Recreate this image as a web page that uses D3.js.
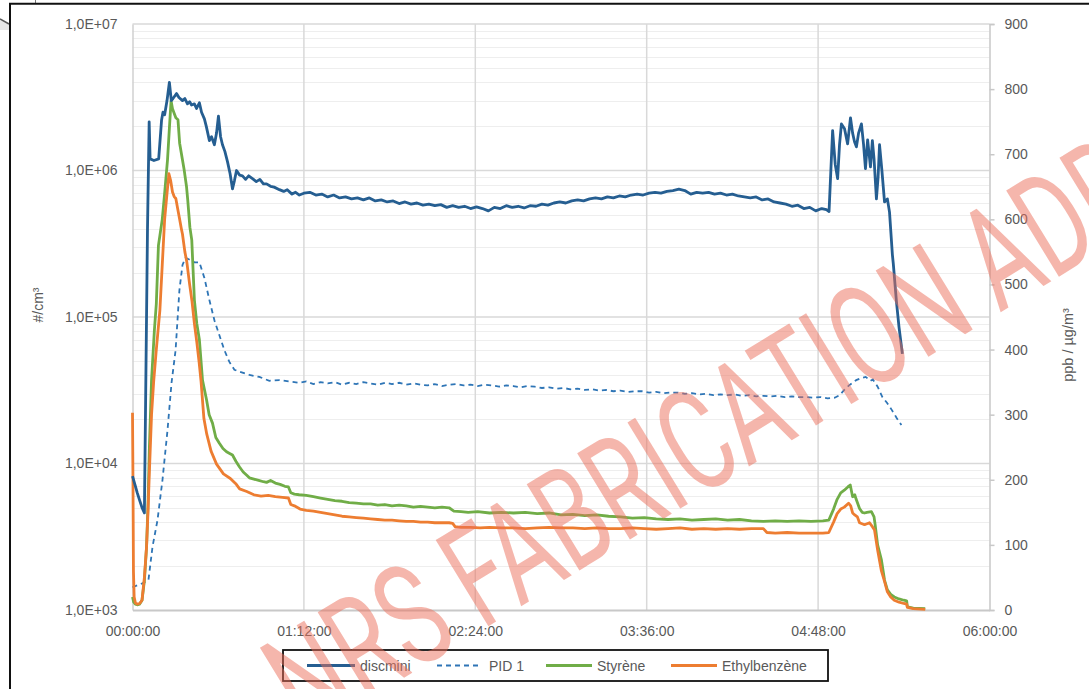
<!DOCTYPE html>
<html><head><meta charset="utf-8">
<script src="https://cdn.jsdelivr.net/npm/d3@7"></script>
<style>
html,body{margin:0;padding:0;background:#fff;}
svg{display:block;}
text{font-family:"Liberation Sans",Arial,sans-serif;}
</style></head>
<body>
<svg id="chart" width="1089" height="689"></svg>
<script>
// ---------- DATA (minutes, value) ----------
const xTickValues = [0, 72, 144, 216, 288, 360];
const xTickLabels = ["00:00:00","01:12:00","02:24:00","03:36:00","04:48:00","06:00:00"];
const leftTickValues = [1e3, 1e4, 1e5, 1e6, 1e7];
const leftTickLabels = ["1,0E+03","1,0E+04","1,0E+05","1,0E+06","1,0E+07"];
const rightTickValues = [0,100,200,300,400,500,600,700,800,900];
const seriesNames = ["discmini","PID 1","Styrène","Ethylbenzène"];

// discmini  (#/cm3, left log axis)
const discmini = [
[0,8200],[1,7200],[2,6300],[3,5600],[4,5000],[5,4600],[6.3,4.0e5],[7,2.15e6],[7.4,1.2e6],[9,1.17e6],[11,1.2e6],
[12.2,2.2e6],[12.8,2.5e6],[13.5,2.4e6],[14.5,3.0e6],[15.5,4.0e6],[16.3,3.0e6],[17,3.1e6],[18.5,3.35e6],[19.5,3.15e6],
[21,3.0e6],[22,3.1e6],[23.1,2.85e6],[24,2.95e6],[24.8,2.8e6],[26,2.85e6],[26.9,2.65e6],[28.1,2.9e6],[29,2.5e6],
[30.2,2.25e6],[31,2.0e6],[32.3,1.6e6],[33.2,1.7e6],[34.4,1.5e6],[35.3,1.8e6],[36.1,2.35e6],[37,1.7e6],[37.8,1.5e6],
[38.8,1.35e6],[39.9,1.15e6],[41,9.5e5],[42,7.5e5],[42.8,8.5e5],[43.7,1.0e6],[45,9.3e5],[46.2,9.2e5],[47.5,8.7e5],
[48.8,9.2e5],[50.4,8.8e5],[52,8.4e5],[53.5,8.7e5],[55,8.1e5],[56.3,8.1e5],[58,7.8e5],[59.5,7.7e5],[61.7,7.4e5],
[63.5,7.2e5],[65,7.4e5],[67,6.9e5],[68.5,7.1e5],[70.1,6.8e5],
[72,7.0e5],[74.5,7.1e5],[77,6.8e5],[79.5,6.9e5],[82,6.6e5],[84.5,6.8e5],[87,6.5e5],[89.5,6.6e5],[92,6.4e5],
[94.5,6.5e5],[97,6.3e5],[99.5,6.5e5],[102,6.2e5],[104.5,6.3e5],[107,6.1e5],[109.5,6.2e5],[112,5.95e5],[114.5,6.1e5],
[117,5.9e5],[119.5,6.0e5],[122,5.8e5],[124.5,5.9e5],[127,5.75e5],[129.5,5.85e5],[132,5.6e5],[134.5,5.75e5],[137,5.6e5],
[139.5,5.7e5],[142,5.5e5],[144.5,5.65e5],[147,5.5e5],[149.5,5.3e5],[152,5.6e5],[154.5,5.5e5],[157,5.75e5],[159.5,5.6e5],
[162,5.7e5],[164.5,5.55e5],[167,5.75e5],[169.5,5.7e5],[172,5.9e5],[174.5,5.8e5],[177,6.0e5],[179.5,6.1e5],[182,6.0e5],
[184.5,6.2e5],[187,6.3e5],[189.5,6.2e5],[192,6.4e5],[194.5,6.5e5],[197,6.4e5],[199.5,6.6e5],[202,6.5e5],[204.5,6.7e5],
[207,6.6e5],[209.5,6.8e5],[212,6.9e5],[214.5,6.8e5],[217,7.0e5],[219.5,7.1e5],[222,7.0e5],[224.5,7.2e5],[227,7.3e5],
[229.5,7.45e5],[232,7.3e5],[234.5,6.9e5],[237,7.1e5],[239.5,7.0e5],[242,7.1e5],[244.5,6.9e5],[247,7.0e5],[249.5,6.8e5],
[252,6.9e5],[254.5,6.7e5],[257,6.6e5],[259.5,6.5e5],[262,6.6e5],[264.5,6.3e5],[267,6.4e5],[269.5,6.1e5],[272,6.0e5],
[274.5,5.9e5],[277,5.7e5],[279.5,5.8e5],[282,5.5e5],[284.5,5.6e5],[287,5.3e5],[289.5,5.5e5],[291.5,5.4e5],[292.6,5.25e5],
[294.1,1.87e6],[295.2,1.1e6],[296.2,8.8e5],[297,1.5e6],[297.8,2.08e6],[299.1,1.93e6],[300.4,1.52e6],[301.6,2.29e6],
[302.5,1.8e6],[303.3,1.57e6],[304.1,1.45e6],[305,1.8e6],[306.2,2.08e6],[307.1,1.5e6],[307.9,1.03e6],[308.8,1.62e6],
[310,1.06e6],[310.8,1.6e6],[311.5,1.2e6],[312.5,6.4e5],[313.2,9.0e5],[313.8,1.5e6],[314.8,1.0e6],[315.9,6.1e5],
[317.1,6.4e5],[318,5.2e5],[319.2,2.67e5],[319.6,2.3e5],[320.9,1.28e5],[322,8.5e4],[323.4,5.6e4]
];

// PID 1 (ppb, right axis)
const pid1 = [
[0,35],[2,38],[4.2,41],[6.7,46],[8.4,97],[10.5,138],[12.6,200],[14.7,276],[16.4,349],[18.1,399],[19.7,491],[21,530],
[22.3,541],[24,538],[26,534],[28.1,534],[30.2,510],[32.3,476],[34.4,445],[36.5,422],[38.6,399],[40.7,381],[42.8,369],
[44.9,366],[49.1,361],[53.3,358],[57.5,352],[61.7,353],[66,351],[70,349],[73,351],[76,347],[79,350],[82,348],[85,350],
[88,346],[91,349],[94,347],[97,350],[100,348],[103,346],[106,349],[109,347],[112,349],[115,346],[118,348],[121,346],
[124,345],[127,347],[130,344],[133,346],[136,347],[139,345],[142,346],[145,344],[148,346],[151,345],[154,343],[157,345],
[160,344],[163,342],[166,344],[169,343],[172,341],[175,342],[178,340],[181,341],[184,339],[187,340],[190,338],[193,339],
[196,337],[199,338],[202,336],[205,337],[208,335],[211,336],[214,336],[217,334],[220,335],[223,333],[226,334],[229,334],
[232,332],[235,333],[238,331],[241,332],[244,330],[247,331],[250,330],[253,331],[256,329],[259,330],[262,328],[265,329],
[268,328],[271,329],[274,327],[277,328],[280,327],[283,327],[286,326],[289,327],[292,325],[295,326],[297,330],[299,338],
[301,345],[304,353],[306,356],[308,358],[310,352],[311,354],[313,343],[315,327],[317,318],[319,307],[321,295],[323,284]
];

// Styrène (µg/m3, right axis)
const styrene = [
[0,20],[0.5,12],[1.2,9],[2,8],[3,9],[4,15],[5,45],[5.9,97],[6.5,160],[7.1,250],[8,353],[9.2,430],[10,470],[10.9,560],
[11.5,575],[12.5,600],[13.5,640],[14.7,691],[15.5,740],[16.2,782],[16.8,770],[17.5,763],[18.2,756],[19.1,753],[19.8,717],
[21,691],[21.7,676],[22.7,650],[23.2,630],[24.1,588],[24.9,568],[26,476],[27,440],[28.1,415],[29.4,353],[31.1,323],
[32.2,300],[33.6,287],[35,265],[36.5,256],[38,248],[39.5,243],[41,240],[42,238],[43.5,228],[44.9,220],[46.5,212],
[48,207],[49.1,203],[51,201],[53,199],[55,197],[56.3,196],[58,199],[60,195],[62,193],[64,190],[65.5,189],[66.5,180],
[68,178],[70,177],[73,176],[76,174],[79,172],[82,170],[85,168],[88,167],[91,165],[94,164],[97,163],[100,163],[103,161],
[106,162],[109,160],[112,161],[115,160],[118,158],[121,159],[124,158],[127,157],[130,158],[133,157],[135,152],[138,151],
[141,150],[145,151],[150,149],[155,150],[160,149],[165,150],[170,148],[175,149],[180,146],[185,147],[190,145],[195,146],
[200,144],[205,143],[210,141],[215,142],[220,140],[225,139],[230,140],[235,138],[240,139],[245,140],[250,138],[255,139],
[260,137],[265,136],[270,137],[275,136],[280,137],[285,136],[290,137],[292.5,138],[294.5,155],[296,170],[297.5,180],
[299,184],[300.5,189],[301.5,192],[302.5,174],[303.4,177],[304,170],[305.4,156],[306.5,150],[307.5,149],[308.5,150],
[310.4,151],[311.5,143],[312,130],[313,100],[314.6,77],[315.9,46],[317.1,31],[318.5,24],[320,20],[322,17],[324,15],
[325.2,14],[325.5,5],[328,3],[333,2]
];

// Ethylbenzène (µg/m3, right axis)
const ethylbenzene = [
[0,303],[0.2,200],[0.4,60],[0.7,20],[1.2,11],[2,9],[3,10],[4,15],[5,50],[5.9,97],[6.5,150],[7.1,213],[8,300],[8.9,351],
[10,400],[11.5,460],[12.5,530],[13.5,600],[14.5,640],[15.3,670],[16,660],[16.8,642],[17.5,635],[18.2,632],[19,616],
[19.8,600],[20.5,586],[21,577],[22,550],[22.8,535],[24,500],[25,474],[26,440],[27,412],[28,380],[28.8,351],[30,294],
[31.2,270],[33,244],[35.3,224],[38.2,209],[41.1,202],[43.6,193],[45,186],[48,182],[51,177],[54,175],[57,176],[60,174],
[63,173],[65.5,172],[66.5,162],[68,160],[70.4,155],[73,153],[76,152],[79,150],[82,148],[85,146],[88,144],[91,143],
[94,142],[97,141],[100,140],[103,139],[106,138],[109,138],[112,137],[115,136],[118,136],[121,135],[124,135],[127,134],
[130,134],[133,134],[134.5,133],[135.5,128],[138,127],[142,127],[146,126],[150,127],[155,126],[160,126],[165,125],
[170,126],[175,127],[180,126],[185,126],[190,125],[195,126],[200,125],[205,125],[210,126],[215,125],[220,124],[225,125],
[230,126],[235,124],[240,125],[245,124],[250,125],[255,124],[260,125],[265,125],[266.5,119],[270,118],[275,119],[280,118],
[285,118],[290,118],[292.5,119],[294.5,135],[296,148],[297.5,155],[299,158],[300.8,164],[301.7,160],[302.5,149],
[303.4,146],[304.5,143],[305.4,134],[307.5,131],[309.6,134],[310.8,128],[311.7,123],[313,92],[314.6,60],[315.9,44],
[317.1,28],[318.5,20],[320,15],[322,12],[324,10],[325.2,9],[325.5,4],[328,2],[333,1]
];

const colors = {discmini:"#255E91", pid:"#2E75B6", styrene:"#70AD47", ethyl:"#ED7D31"};
const watermarkText = "NRS FABRICATION ADD";

// ---------- LAYOUT ----------
const svg = d3.select("#chart");
const L = 132.5, R = 989.5, T = 24, B = 610;
const x = d3.scaleLinear().domain([0,360]).range([L,R]);
const yL = d3.scaleLog().domain([1e3,1e7]).range([B,T]);
const yR = d3.scaleLinear().domain([0,900]).range([B,T]);

// outer frame
svg.append("rect").attr("x",0).attr("y",0).attr("width",1089).attr("height",689).attr("fill","#fff");
svg.append("path").attr("d","M0,19 L9,23 L9,30 L0,30 Z").attr("fill","#e6e6e6");
svg.append("line").attr("x1",0).attr("y1",19).attr("x2",9).attr("y2",24).attr("stroke","#555").attr("stroke-width",1.5);
svg.append("line").attr("x1",35.5).attr("y1",0).attr("x2",35.5).attr("y2",3).attr("stroke","#777").attr("stroke-width",1);
svg.append("path").attr("d","M1089,3.8 L10,3.8 L10,689").attr("fill","none").attr("stroke","#111").attr("stroke-width",2);

// minor log gridlines
const minor = [];
for (let e=3; e<7; e++) for (let k=2; k<=9; k++) minor.push(k*Math.pow(10,e));
svg.append("g").selectAll("line").data(minor).join("line")
  .attr("x1",L).attr("x2",R).attr("y1",d=>Math.round(yL(d))+0.5).attr("y2",d=>Math.round(yL(d))+0.5)
  .attr("stroke","#eeeeee").attr("stroke-width",1);
// major gridlines
svg.append("g").selectAll("line").data(leftTickValues.slice(1)).join("line")
  .attr("x1",L).attr("x2",R).attr("y1",d=>yL(d)).attr("y2",d=>yL(d))
  .attr("stroke","#d9d9d9").attr("stroke-width",1.5);
svg.append("g").selectAll("line").data(xTickValues.slice(1,-1)).join("line")
  .attr("x1",d=>x(d)).attr("x2",d=>x(d)).attr("y1",T).attr("y2",B)
  .attr("stroke","#d9d9d9").attr("stroke-width",1.5);

// axes
const fontCol = "#595959";
const gL = svg.append("g").attr("transform",`translate(${L},0)`)
  .call(d3.axisLeft(yL).tickValues(leftTickValues).tickFormat((d,i)=>leftTickLabels[i]).tickSize(0).tickPadding(15));
gL.select(".domain").attr("stroke","#d0d0d0").attr("stroke-width",1.5);
const gR = svg.append("g").attr("transform",`translate(${R},0)`)
  .call(d3.axisRight(yR).tickValues(rightTickValues).tickSize(5).tickPadding(10));
gR.select(".domain").attr("stroke","#c8c8c8").attr("stroke-width",1.5);
gR.selectAll(".tick line").attr("stroke","#c8c8c8").attr("stroke-width",1.5);
const gB = svg.append("g").attr("transform",`translate(0,${B})`)
  .call(d3.axisBottom(x).tickValues(xTickValues).tickFormat((d,i)=>xTickLabels[i]).tickSize(0).tickPadding(16));
gB.select(".domain").attr("stroke","#c8c8c8").attr("stroke-width",2);
svg.selectAll(".tick text").attr("fill",fontCol).style("font-size","14px").style("font-family","'Liberation Sans',Arial,sans-serif");

// axis titles
svg.append("text").attr("transform","translate(43,305) rotate(-90)").attr("text-anchor","middle")
  .attr("fill",fontCol).style("font-size","14px").text("#/cm³");
svg.append("text").attr("transform","translate(1073,345) rotate(-90)").attr("text-anchor","middle")
  .attr("fill",fontCol).style("font-size","14.5px").text("ppb / µg/m³");

// series
const lineL = d3.line().x(d=>x(d[0])).y(d=>yL(d[1]));
const lineR = d3.line().x(d=>x(d[0])).y(d=>yR(d[1]));
svg.append("path").datum(pid1).attr("d",lineR).attr("fill","none").attr("stroke",colors.pid)
  .attr("stroke-width",1.8).attr("stroke-dasharray","5,4");
svg.append("path").datum(styrene).attr("d",lineR).attr("fill","none").attr("stroke",colors.styrene)
  .attr("stroke-width",2.8).attr("stroke-linejoin","round");
svg.append("path").datum(ethylbenzene).attr("d",lineR).attr("fill","none").attr("stroke",colors.ethyl)
  .attr("stroke-width",2.8).attr("stroke-linejoin","round");
svg.append("path").datum(discmini).attr("d",lineL).attr("fill","none").attr("stroke",colors.discmini)
  .attr("stroke-width",2.8).attr("stroke-linejoin","round");

// legend
const lg = svg.append("g");
lg.append("rect").attr("x",283).attr("y",650).attr("width",545).attr("height",31)
  .attr("fill","#fff").attr("stroke","#111").attr("stroke-width",1.8);
const legItems = [
  {name:seriesNames[0], c:colors.discmini, x0:307, x1:355, tx:360, dash:null, w:2.8},
  {name:seriesNames[1], c:colors.pid, x0:437, x1:481, tx:489, dash:"5,4", w:1.8},
  {name:seriesNames[2], c:colors.styrene, x0:546, x1:592, tx:597, dash:null, w:2.8},
  {name:seriesNames[3], c:colors.ethyl, x0:671, x1:717, tx:722, dash:null, w:2.8}
];
legItems.forEach(it=>{
  lg.append("line").attr("x1",it.x0).attr("x2",it.x1).attr("y1",665.5).attr("y2",665.5)
    .attr("stroke",it.c).attr("stroke-width",it.w).attr("stroke-dasharray",it.dash);
  lg.append("text").attr("x",it.tx).attr("y",670.5).attr("fill",fontCol).style("font-size","14px").text(it.name);
});

// watermark
svg.append("text").attr("transform","translate(306,738) rotate(-31.5)")
  .attr("textLength",1000).attr("lengthAdjust","spacingAndGlyphs")
  .style("font-family","Roboto, 'Liberation Sans', sans-serif").style("font-size","142px").style("font-weight","400")
  .attr("fill","rgb(236,110,90)").attr("fill-opacity",0.5).text(watermarkText);
</script>
</body></html>
